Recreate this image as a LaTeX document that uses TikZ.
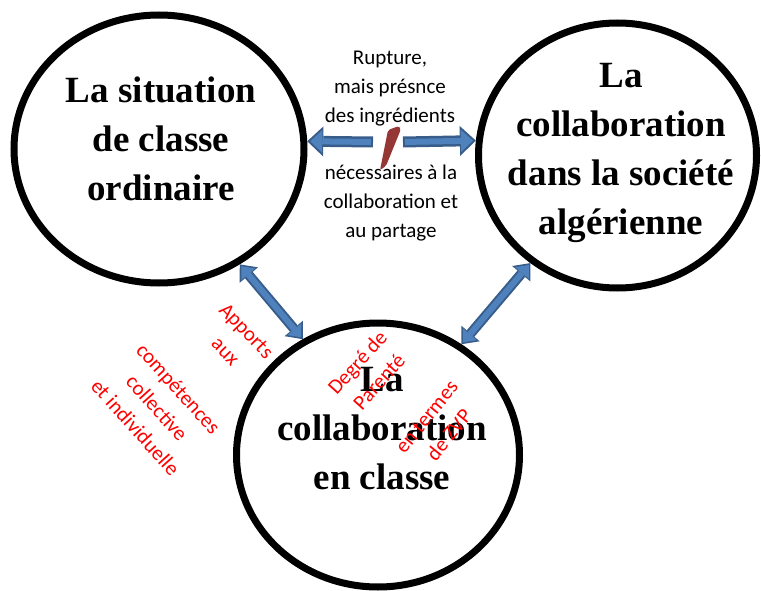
\documentclass[tikz,border=0pt]{standalone}
\usepackage{fontspec}
\setmainfont{Liberation Serif}
\newfontfamily\notefont{Carlito}
\usepackage{xcolor}
\usepackage{tikz}
\usetikzlibrary{arrows.meta,calc,positioning,shapes.geometric}
\definecolor{arrowfill}{HTML}{4F81BD}
\definecolor{arrowedge}{HTML}{385D8A}
\definecolor{breakmark}{HTML}{953735}
\tikzset{
  bubble/.style={ellipse, draw=black, line width=7pt, fill=white, inner sep=0pt},
  bubbletext/.style={font=\fontsize{37}{49}\selectfont\bfseries, align=center, inner sep=0pt},
  note/.style={font=\notefont\fontsize{21}{29}\selectfont, align=center, inner sep=0pt},
  redlabel/.style={note, text=red},
  blockarrow/.style={
    draw=arrowedge, line width=11pt,
    -{Triangle[length=16pt,width=30pt,line width=0pt]},
    postaction={draw=arrowfill, line width=6pt, shorten >=3pt, shorten <=2pt,
      -{Triangle[length=12pt,width=22.5pt,line width=0pt]}}
  },
  twoway/.style={
    draw=arrowedge, line width=10pt,
    {Triangle[length=14pt,width=24pt,line width=0pt]}-{Triangle[length=14pt,width=24pt,line width=0pt]},
    postaction={draw=arrowfill, line width=6pt, shorten >=2.5pt, shorten <=2.5pt,
      {Triangle[length=10.5pt,width=18pt,line width=0pt]}-{Triangle[length=10.5pt,width=18pt,line width=0pt]}}
  }
}

\begin{document}
\begin{tikzpicture}[x=1pt,y=-1pt]
\useasboundingbox (0,0) rectangle (761,591);

% the three situations
\node[bubble, minimum width=290pt, minimum height=268pt] (sit) at (159,149) {};
\node[bubble, minimum width=278pt, minimum height=265pt] (soc) at (617.5,155.5) {};
\node[bubble, minimum width=283pt, minimum height=264pt] (cls) at (378,455) {};

\node[bubbletext] (sit-text) at (161,138.5) {La situation\\de classe\\ordinaire};
\node[bubbletext] (soc-text) at (621,153) {La\\collaboration\\dans la soci\'et\'e\\alg\'erienne};
\node[bubbletext] (cls-text) at (382,429) {La\\collaboration\\en classe};

% rupture between class and society
\node[note] (rupture) at (390,88.5) {Rupture,\\mais présnce\\des ingrédients};
\node[note] (partage) at (391,203.5) {nécessaires à la\\collaboration et\\au partage};
\coordinate (cutL) at (373,142);
\coordinate (cutR) at (403,142);
\draw[blockarrow] (cutL) -- (sit.3);
\draw[blockarrow] (cutR) -- (soc.174.5);
\fill[breakmark, rounded corners=2pt] (388,130) -- (399,126) -- (401,129) -- (386,166) -- (380,170) -- cycle;

% links with the class
\draw[twoway] (sit.-55) -- (cls.123);
\draw[twoway] (soc.-129) -- (cls.53);

\node[redlabel, rotate=-46] (apports) at (236,341) {Apports\\aux};
\node[redlabel, rotate=-48] (competences) at (157,408) {compétences\\collective\\et individuelle};
\node[redlabel, rotate=48] (parente) at (368,372) {Degré de\\Parenté};
\node[redlabel, rotate=51] (zvp) at (438,426) {en termes\\de ZVP};
\end{tikzpicture}
\end{document}
